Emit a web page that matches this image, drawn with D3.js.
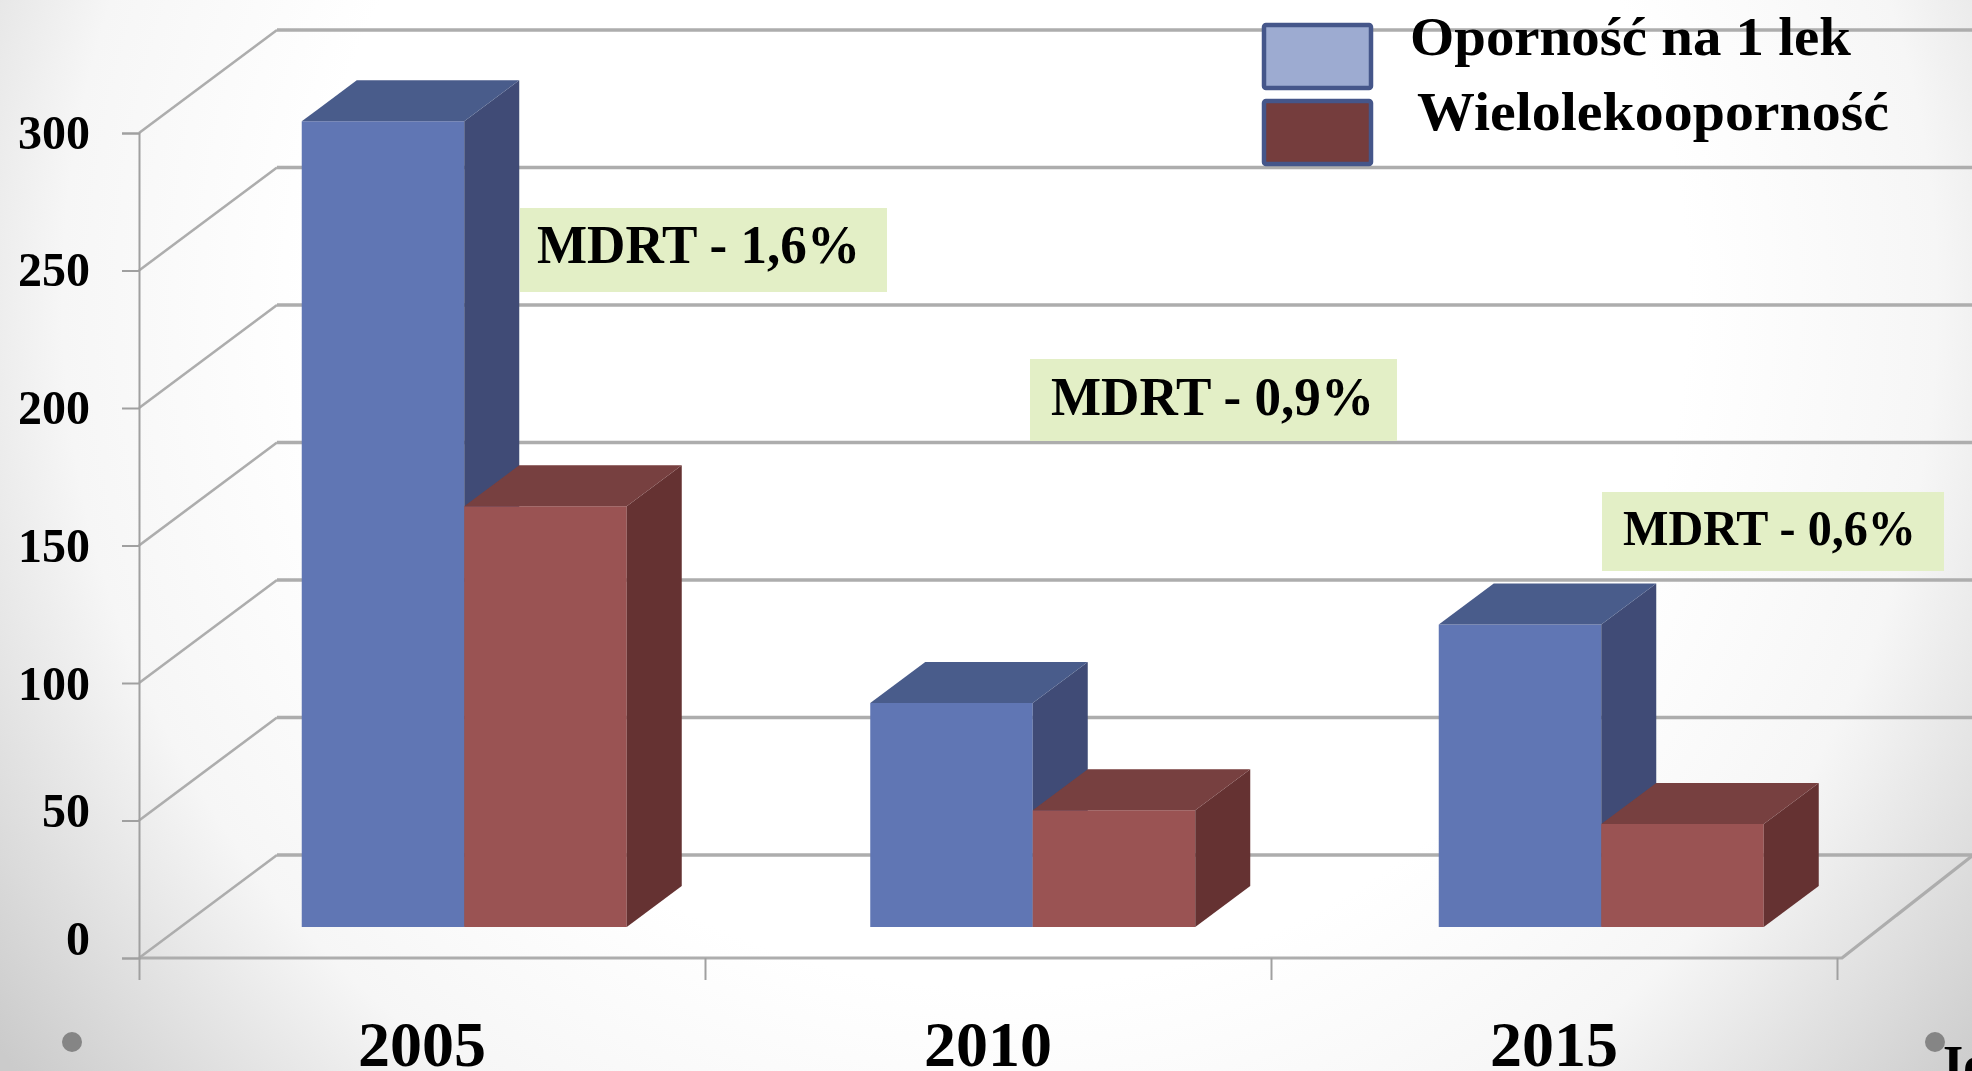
<!DOCTYPE html>
<html><head><meta charset="utf-8">
<style>html,body{margin:0;padding:0;overflow:hidden;background:#fff}svg{display:block}
text{font-family:"Liberation Serif",serif;font-weight:700;fill:#000}</style>
<script src="https://cdn.jsdelivr.net/npm/d3@7"></script></head><body>
<script>
const categories = ["2005","2010","2015"];
const seriesNames = ["Oporność na 1 lek","Wielolekooporność"];
const resistanceOne = [293,81.5,110];
const multiResistance = [153,42.5,37.5];
const yTicks = [0,50,100,150,200,250,300];
const mdrtLabels = ["MDRT - 1,6%","MDRT - 0,9%","MDRT - 0,6%"];
const frontColors = ["#6076b4","#9a5252"];
const sideColors = ["#3f4c76","#653333"];
const topColors = ["#4a5c8b","#773f3f"];
const legendFill = ["#9dabd1","#743d3d"];

const W=1972,H=1071;
const svg=d3.select("body").append("svg").attr("width",W).attr("height",H);
const defs=svg.append("defs");
const bg=defs.append("radialGradient").attr("id","bg").attr("gradientUnits","userSpaceOnUse")
  .attr("cx",1000).attr("cy",300).attr("r",1250);
[[0,"#ffffff"],[0.55,"#ffffff"],[0.75,"#f6f6f6"],[1,"#cbcbcb"]].forEach(s=>bg.append("stop").attr("offset",s[0]).attr("stop-color",s[1]));
defs.append("filter").attr("id","soft").attr("x","-5%").attr("y","-5%").attr("width","110%").attr("height","110%")
  .append("feGaussianBlur").attr("stdDeviation",0.7);
svg.append("rect").attr("width",W).attr("height",H).attr("fill","url(#bg)");

const root=svg.append("g").attr("filter","url(#soft)");
const y=d3.scaleLinear().domain([0,300]).range([958,133]);
const depthX=138, depthY=103;
const axisX=d3.scaleLinear().domain([0,3]).range([139,1837]);
const labelX=d3.scaleBand().domain(categories).range([139,1837]);
const barX=d3.scaleBand().domain(categories).range([180,1885.5]);
const barW=162.5, barBase=927, barDX=55, barDY=41, pxPerUnit=(y(0)-y(1));
const gridCol="#adadad";

// walls and gridlines
const grid=root.append("g").attr("fill","none").attr("stroke",gridCol);
yTicks.forEach(t=>{
  grid.append("path").attr("stroke-width",2.6)
    .attr("d",d3.line()([[axisX(0),y(t)],[axisX(0)+depthX,y(t)-depthY]]));
  grid.append("path").attr("stroke-width",3.4)
    .attr("d",d3.line()([[axisX(0)+depthX,y(t)-depthY],[W,y(t)-depthY]]));
});
grid.append("path").attr("stroke-width",3.2).attr("d",d3.line()([[axisX(0),y(0)],[1842,y(0)],[W,y(0)-102]]));

// y axis
const yAxis=root.append("g").attr("transform",`translate(${axisX(0)},0)`)
  .call(d3.axisLeft(y).tickValues(yTicks).tickSize(17).tickPadding(32).tickFormat(d3.format("d")));
yAxis.select(".domain").attr("stroke","#a0a0a0").attr("stroke-width",2);
yAxis.selectAll("line").attr("stroke","#a0a0a0").attr("stroke-width",2);
const labelBaseline=d3.scaleLinear().domain([0,50,100,300]).range([954,826,699,148]);
yAxis.selectAll("text").attr("font-size",48).attr("font-family",null).attr("dy",null).attr("y",null)
  .attr("transform",d=>`translate(0,${labelBaseline(d)-y(d)})`).attr("fill","#000");

// x axis
const xAxis=root.append("g").attr("transform",`translate(0,${y(0)})`)
  .call(d3.axisBottom(axisX).tickValues([0,1,2,3]).tickSize(22).tickFormat(""));
xAxis.select(".domain").remove();
xAxis.selectAll("line").attr("stroke","#a0a0a0").attr("stroke-width",2);
root.append("g").selectAll("text").data(categories).join("text")
  .attr("x",d=>labelX(d)+labelX.bandwidth()/2).attr("y",1066).attr("text-anchor","middle")
  .attr("font-size",64).text(d=>d);

// MDRT annotations
const boxX=[520,1030,1602], boxR=[887,1397,1944], boxT=[208,359,492], boxB=[292,441,571];
const txtX=[537,1051,1623], txtW=[323,323,293], txtY=[263,415,545], txtS=[54,54,50];
mdrtLabels.forEach((t,i)=>{
  root.append("rect").attr("x",boxX[i]).attr("y",boxT[i]).attr("width",boxR[i]-boxX[i]).attr("height",boxB[i]-boxT[i]).attr("fill","#e3efc6");
  root.append("text").attr("x",txtX[i]).attr("y",txtY[i]).attr("font-size",txtS[i])
    .attr("textLength",txtW[i]).attr("lengthAdjust","spacingAndGlyphs").text(t);
});

// bars
[resistanceOne,multiResistance].forEach((vals,s)=>{
  const g=root.append("g");
  categories.forEach((c,i)=>{
    const x0=barX(c)+barX.bandwidth()/2-barW+s*barW, x1=x0+barW;
    const yt=barBase-vals[i]*pxPerUnit;
    const line=d3.line();
    g.append("path").attr("fill",frontColors[s]).attr("d",line([[x0,barBase],[x1,barBase],[x1,yt],[x0,yt]])+"Z");
    g.append("path").attr("fill",sideColors[s]).attr("d",line([[x1,barBase],[x1+barDX,barBase-barDY],[x1+barDX,yt-barDY],[x1,yt]])+"Z");
    g.append("path").attr("fill",topColors[s]).attr("d",line([[x0,yt],[x1,yt],[x1+barDX,yt-barDY],[x0+barDX,yt-barDY]])+"Z");
  });
});

// legend
const legY=[25,101], legH=63, legX=1264, legW=107;
const legTX=[1410,1417], legTW=[441,472], legTY=[55,130];
seriesNames.forEach((n,i)=>{
  root.append("rect").attr("x",legX).attr("y",legY[i]).attr("width",legW).attr("height",legH).attr("rx",2)
    .attr("fill",legendFill[i]).attr("stroke","#45578a").attr("stroke-width",4.5);
  root.append("text").attr("x",legTX[i]).attr("y",legTY[i]).attr("font-size",54)
    .attr("textLength",legTW[i]).attr("lengthAdjust","spacingAndGlyphs").text(n);
});

// slide remnants
[72,1935].forEach(cx=>root.append("ellipse").attr("cx",cx).attr("cy",1042).attr("rx",10).attr("ry",10).attr("fill","#858585"));
root.append("text").attr("x",1936).attr("y",1083).attr("font-size",54).text("Jo");
</script></body></html>
